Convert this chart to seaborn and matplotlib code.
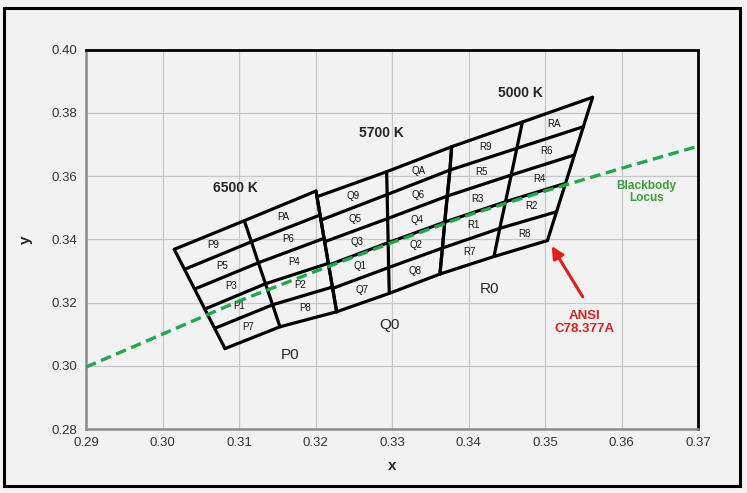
import numpy as np
import pandas as pd
import matplotlib
matplotlib.use("Agg")
import matplotlib.pyplot as plt
import seaborn as sns
from matplotlib.patches import Rectangle

# ---------------- data ----------------
# Each group: three columns of grid vertices (left, middle, right), top -> bottom
P_left_x = [0.30153, 0.30287, 0.30419, 0.30552, 0.30681, 0.30816]
P_left_y = [0.33684, 0.33051, 0.32427, 0.31794, 0.31184, 0.30544]
P_mid_x = [0.31068, 0.31161, 0.31252, 0.31345, 0.31438, 0.31534]
P_mid_y = [0.34589, 0.33924, 0.33259, 0.32595, 0.31930, 0.31234]
P_right_x = [0.32005, 0.32058, 0.32110, 0.32167, 0.32219, 0.32275]
P_right_y = [0.35528, 0.34769, 0.34032, 0.33241, 0.32491, 0.31709]

Q_left_x = [0.32018, 0.32070, 0.32118, 0.32170, 0.32223, 0.32275]
Q_left_y = [0.35348, 0.34611, 0.33924, 0.33187, 0.32449, 0.31709]
Q_mid_x = [0.32928, 0.32935, 0.32941, 0.32948, 0.32954, 0.32962]
Q_mid_y = [0.36139, 0.35418, 0.34658, 0.33896, 0.33108, 0.32291]
Q_right_x = [0.33777, 0.33755, 0.33720, 0.33687, 0.33657, 0.33624]
Q_right_y = [0.36930, 0.36193, 0.35370, 0.34547, 0.33725, 0.32902]

R_left_x = [0.33777, 0.33755, 0.33720, 0.33687, 0.33657, 0.33624]
R_left_y = [0.36930, 0.36193, 0.35370, 0.34547, 0.33725, 0.32902]
R_mid_x = [0.34702, 0.34629, 0.34556, 0.34481, 0.34406, 0.34330]
R_mid_y = [0.37712, 0.36880, 0.36035, 0.35190, 0.34348, 0.33456]
R_right_x = [0.35619, 0.35498, 0.35381, 0.35265, 0.35148, 0.35029]
R_right_y = [0.38494, 0.37563, 0.36668, 0.35772, 0.34873, 0.33962]

group_names = ["P", "Q", "R"]
left_col_codes = ["9", "5", "3", "1", "7"]
right_col_codes = ["A", "6", "4", "2", "8"]

# Blackbody locus
bb_x = [0.29, 0.30, 0.31, 0.32, 0.33, 0.34, 0.35, 0.36, 0.37]
bb_y = [0.2996, 0.3100, 0.3205, 0.3299, 0.3390, 0.3477, 0.3553, 0.3625, 0.3695]

x_ticks = [0.29, 0.30, 0.31, 0.32, 0.33, 0.34, 0.35, 0.36, 0.37]
y_ticks = [0.28, 0.30, 0.32, 0.34, 0.36, 0.38, 0.40]

# ---------------- figure ----------------
sns.set_theme(style="white")
plt.rcParams["font.family"] = ["Liberation Sans", "DejaVu Sans"]

BG = "#f2f2f2"
fig = plt.figure(figsize=(7.47, 4.93), dpi=100, facecolor=BG)
ax = fig.add_axes([86 / 747, 1 - 429 / 493, (698.3 - 86) / 747, (429 - 49.7) / 493])
ax.set_facecolor(BG)

groups = {
    "P": ([P_left_x, P_mid_x, P_right_x], [P_left_y, P_mid_y, P_right_y]),
    "Q": ([Q_left_x, Q_mid_x, Q_right_x], [Q_left_y, Q_mid_y, Q_right_y]),
    "R": ([R_left_x, R_mid_x, R_right_x], [R_left_y, R_mid_y, R_right_y]),
}

LW = 2.3
for g in group_names:
    xs, ys = groups[g]
    gx = np.array(xs)  # (3 cols, 6 rows)
    gy = np.array(ys)
    for r in range(gx.shape[1]):
        ax.plot(gx[:, r], gy[:, r], color="black", lw=LW, solid_capstyle="round",
                solid_joinstyle="round", zorder=3)
    for c in range(gx.shape[0]):
        ax.plot(gx[c, :], gy[c, :], color="black", lw=LW, solid_capstyle="round",
                solid_joinstyle="round", zorder=3)
    for c, codes in enumerate([left_col_codes, right_col_codes]):
        for r, code in enumerate(codes):
            cx = (gx[c, r] + gx[c + 1, r] + gx[c, r + 1] + gx[c + 1, r + 1]) / 4
            cy = (gy[c, r] + gy[c + 1, r] + gy[c, r + 1] + gy[c + 1, r + 1]) / 4
            ax.text(cx, cy, g + code, fontsize=7, ha="center", va="center",
                    color="#111111", zorder=4)

# blackbody locus
bb = pd.DataFrame({"x": bb_x, "y": bb_y})
sns.lineplot(data=bb, x="x", y="y", ax=ax, color="#1faa4a", lw=2.4,
             linestyle=(0, (3.2, 1.7)), zorder=5)

ax.set_xlim(0.29, 0.37)
ax.set_ylim(0.28, 0.40)
ax.set_xticks(x_ticks)
ax.set_yticks(y_ticks)
ax.set_xticklabels([f"{v:.2f}" for v in x_ticks])
ax.set_yticklabels([f"{v:.2f}" for v in y_ticks])
ax.tick_params(length=0, labelsize=9.5, colors="#333333", pad=6)
for lab in ax.get_xticklabels() + ax.get_yticklabels():
    lab.set_family(["Liberation Sans Narrow", "Liberation Sans", "DejaVu Sans"])
ax.grid(True, color="#c8c8c8", linewidth=0.9)
ax.set_axisbelow(True)
for s in ["top", "right"]:
    ax.spines[s].set_color("black")
    ax.spines[s].set_linewidth(2.0)
for s in ["left", "bottom"]:
    ax.spines[s].set_color("#8a8a8a")
    ax.spines[s].set_linewidth(1.8)
ax.set_xlabel("x", fontsize=11, fontweight="bold", labelpad=7)
ax.set_ylabel("y", fontsize=11, fontweight="bold", labelpad=14)

# annotations
ax.text(0.30946, 0.35614, "6500 K", fontsize=10, fontweight="bold", ha="center", va="center")
ax.text(0.32863, 0.37373, "5700 K", fontsize=10, fontweight="bold", ha="center", va="center")
ax.text(0.34679, 0.38639, "5000 K", fontsize=10, fontweight="bold", ha="center", va="center")
ax.text(0.31665, 0.30338, "P0", fontsize=11, ha="center", va="center")
ax.text(0.32971, 0.31304, "Q0", fontsize=11, ha="center", va="center")
ax.text(0.34268, 0.32418, "R0", fontsize=11, ha="center", va="center")
ax.text(0.36325, 0.35500, "Blackbody\nLocus", fontsize=8.5, fontweight="bold",
        color="#3a9e3a", ha="center", va="center", linespacing=1.05)
ax.text(0.35515, 0.31373, "ANSI\nC78.377A", fontsize=9.5, fontweight="bold",
        color="#e0201b", ha="center", va="center", linespacing=1.05)
ax.annotate("", xy=(0.35084, 0.33788), xytext=(0.35489, 0.32184),
            arrowprops=dict(arrowstyle="-|>,head_length=0.6,head_width=0.3",
                            color="#e0201b", lw=2.2, shrinkA=0, shrinkB=0), zorder=6)

# outer frame
fig.patches.append(Rectangle((4 / 747, 1 - 486 / 493), 736 / 747, 478 / 493,
                             transform=fig.transFigure, fill=False,
                             edgecolor="black", linewidth=2.2))

fig.savefig("out.png", dpi=100, facecolor=BG)
